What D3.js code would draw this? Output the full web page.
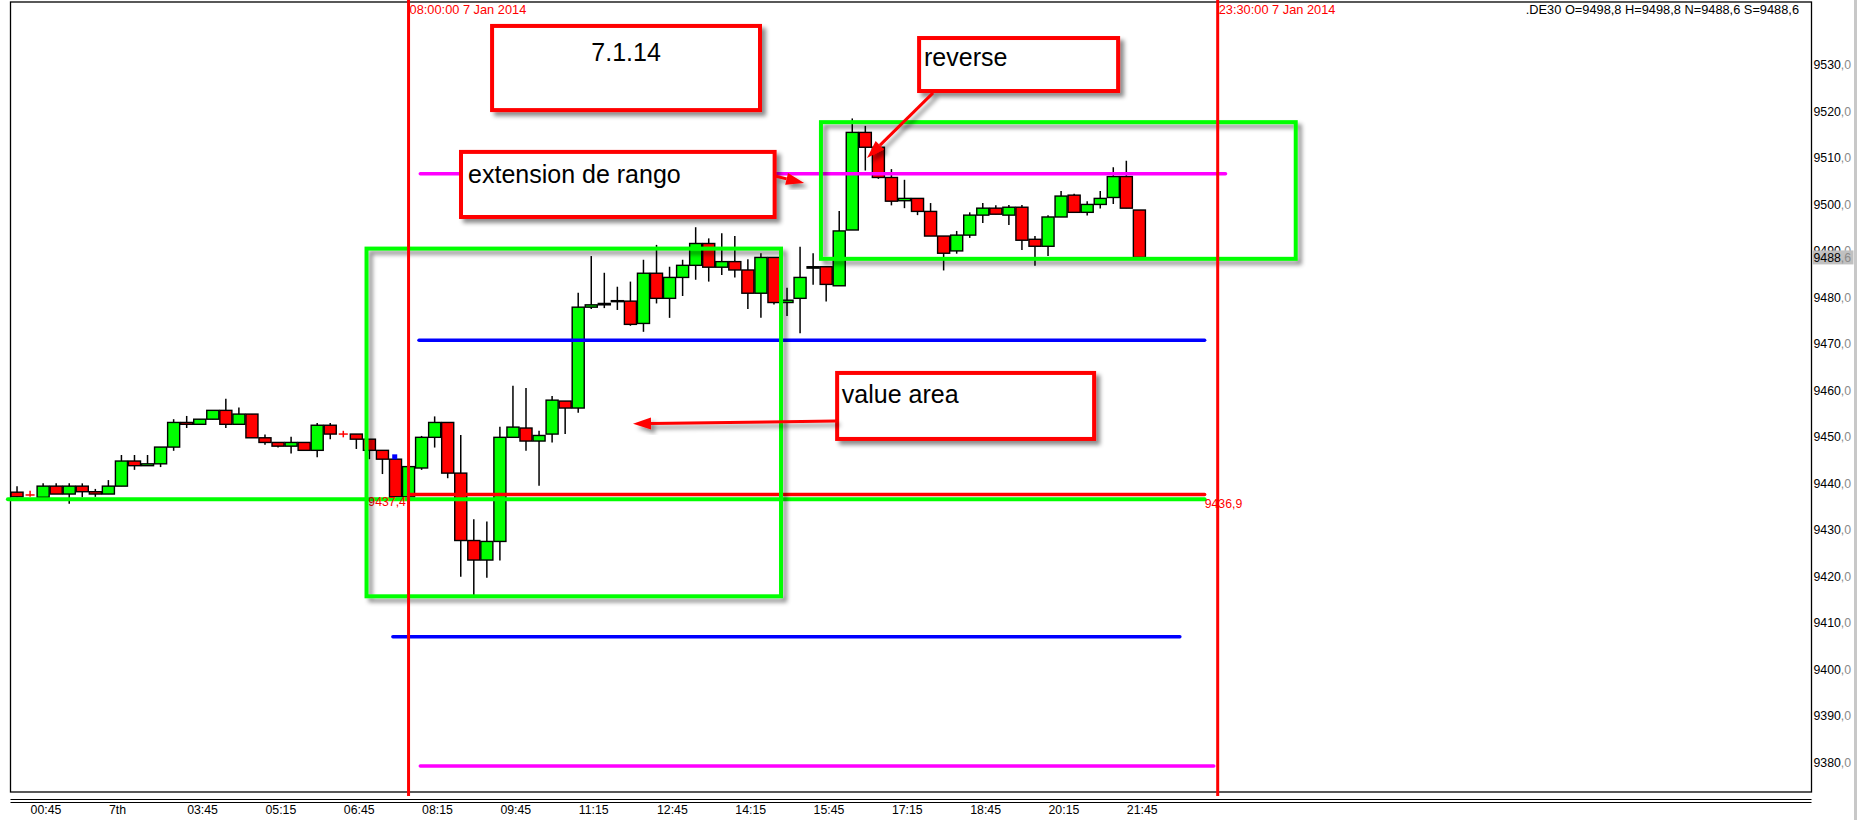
<!DOCTYPE html>
<html><head><meta charset="utf-8">
<script src="https://cdn.jsdelivr.net/npm/d3@7/dist/d3.min.js"></script>
<style>
body{margin:0;background:#fff;overflow:hidden}
svg{display:block}
text{font-family:"Liberation Sans",Arial,sans-serif}
</style>
</head><body>
<svg id="c" width="1857" height="820"></svg>
<script>
// ---- data: 15-minute candles, index 0 = 00:30, 7 Jan 2014 ----
const opens  = [9438.1,9437.5,9437.0,9439.4,9437.7,9439.4,9438.2,9437.7,9439.4,9444.8,9443.8,9444.2,9447.8,9453.1,9452.7,9453.8,9455.7,9452.7,9454.9,9449.8,9448.8,9448.0,9448.8,9447.1,9452.5,9450.6,9450.6,9449.5,9447.1,9445.2,9437.1,9443.3,9449.9,9453.1,9442.2,9427.7,9423.5,9427.5,9449.9,9451.9,9449.1,9450.6,9457.7,9456.2,9477.9,9478.4,9479.3,9479.2,9474.4,9485.2,9479.8,9484.3,9486.9,9491.6,9486.5,9487.7,9485.9,9480.9,9488.6,9478.9,9479.8,9486.3,9486.6,9482.5,9494.5,9515.5,9512.3,9505.8,9500.8,9501.3,9498.5,9493.2,9490.0,9493.4,9497.7,9499.2,9497.7,9499.4,9492.5,9491.0,9497.3,9502.0,9498.3,9500.0,9501.5,9506.0,9498.8];
const highs  = [9439.4,9438.4,9440.0,9440.0,9440.0,9440.0,9438.8,9440.7,9446.1,9446.1,9446.1,9447.8,9453.8,9454.5,9453.8,9455.7,9458.2,9456.3,9454.9,9450.5,9448.8,9450.0,9448.8,9453.0,9453.0,9451.3,9450.6,9449.5,9447.1,9445.2,9443.6,9450.2,9454.4,9453.1,9450.4,9432.3,9431.8,9452.2,9461.0,9460.5,9451.3,9458.8,9457.7,9481.0,9488.9,9485.3,9482.3,9483.4,9488.1,9491.3,9486.6,9488.1,9495.1,9492.7,9493.8,9493.2,9488.2,9489.5,9488.6,9482.1,9490.9,9489.5,9486.6,9498.6,9518.5,9516.9,9512.3,9507.6,9505.3,9501.3,9500.3,9493.2,9494.3,9498.3,9500.3,9499.8,9499.9,9499.9,9493.2,9497.7,9502.9,9502.3,9500.7,9502.9,9508.0,9509.4,9498.8];
const lows   = [9437.0,9437.1,9437.0,9437.7,9435.6,9437.0,9437.1,9437.7,9439.4,9442.9,9443.8,9443.5,9447.0,9451.9,9452.7,9453.8,9451.9,9452.7,9449.8,9448.3,9447.7,9446.4,9447.1,9445.6,9449.5,9449.9,9447.4,9445.2,9442.0,9437.1,9437.1,9442.9,9447.7,9441.1,9419.9,9416.0,9419.7,9423.4,9449.9,9447.0,9439.5,9448.8,9450.6,9455.2,9477.5,9477.7,9477.3,9473.9,9472.6,9478.7,9475.6,9480.3,9483.8,9483.4,9484.8,9484.3,9477.5,9475.6,9478.5,9476.0,9472.3,9482.7,9479.1,9482.5,9494.5,9507.3,9505.5,9499.8,9499.2,9497.7,9493.2,9485.8,9489.4,9492.8,9496.0,9497.9,9495.6,9490.2,9486.8,9488.9,9497.3,9498.3,9497.6,9499.1,9500.1,9499.2,9488.6];
const closes = [9437.1,9437.5,9439.4,9437.7,9439.4,9438.2,9437.7,9439.4,9444.8,9443.8,9444.2,9447.8,9453.1,9452.7,9453.8,9455.7,9452.7,9454.9,9449.8,9448.8,9448.0,9448.8,9447.1,9452.5,9450.6,9450.6,9449.5,9447.1,9445.2,9437.1,9443.6,9449.9,9453.1,9442.2,9427.7,9423.5,9427.5,9449.9,9452.1,9449.1,9450.3,9457.9,9456.2,9477.9,9478.4,9478.7,9479.1,9474.2,9485.2,9479.8,9484.3,9486.9,9491.6,9486.5,9487.7,9485.9,9480.9,9488.6,9478.9,9479.4,9484.3,9486.6,9482.8,9494.3,9515.5,9512.3,9505.8,9500.7,9501.3,9498.5,9493.2,9489.5,9493.4,9497.7,9499.2,9497.9,9499.4,9492.3,9491.0,9497.3,9501.8,9498.3,9500.0,9501.3,9506.0,9499.2,9488.6];

const xTickIndex  = [1,7,13,19,25,31,37,43,49,55,61,67,73,79,85];
const xTickLabels = ["00:45","7th","03:45","05:15","06:45","08:15","09:45","11:15","12:45","14:15","15:45","17:15","18:45","20:15","21:45"];
const yTicks = [9380,9390,9400,9410,9420,9430,9440,9450,9460,9470,9480,9490,9500,9510,9520,9530];

// horizontal levels: value, from index, to index
const levelNames  = ["magentaHi","blueHi","red","green","blueLo","magentaLo"];
const levelValues = [9506.6, 9470.8, 9437.6, 9436.6, 9407.0, 9379.2];
const levelFrom   = [30.9, 30.8, 30.0, -0.7, 28.8, 30.9];
const levelTo     = [92.6, 91.0, 91.0, 91.0, 89.1, 91.7];

// vertical session lines (candle index) and their labels
const vlineIndex  = [30, 92];
const vlineLabels = ["08:00:00 7 Jan 2014", "23:30:00 7 Jan 2014"];

const lastQuote = {o:9498.8, h:9498.8, l:9488.6, c:9488.6};

// ---- geometry ----
const W = 1857, H = 820;
const plot = {l:10.5, r:1811.5, t:2, b:792};
const x = d3.scaleLinear().domain([-0.5, 137.5]).range([plot.l, plot.r]);
const y = d3.scaleLinear().domain([9373.6, 9543.55]).range([plot.b, plot.t]);
const bw = x(1) - x(0);

const svg = d3.select("#c");
const defs = svg.append("defs");
const f = defs.append("filter").attr("id","sh").attr("x","-20%").attr("y","-20%").attr("width","150%").attr("height","160%");
f.append("feDropShadow").attr("dx",4).attr("dy",4).attr("stdDeviation",2.2).attr("flood-color","#000").attr("flood-opacity",0.45);

svg.append("rect").attr("width",W).attr("height",H).attr("fill","#fff");
// right scrollbar strip
svg.append("rect").attr("x",1854).attr("y",0).attr("width",3).attr("height",H).attr("fill","#c8c8c8");

// frame
svg.append("rect").attr("x",plot.l).attr("y",plot.t).attr("width",plot.r-plot.l).attr("height",plot.b-plot.t)
  .attr("fill","none").attr("stroke","#000").attr("stroke-width",1.3);
svg.append("line").attr("x1",plot.l).attr("x2",plot.r).attr("y1",799.5).attr("y2",799.5).attr("stroke","#000").attr("stroke-width",1.2);
svg.append("line").attr("x1",plot.l).attr("x2",plot.r).attr("y1",802.5).attr("y2",802.5).attr("stroke","#000").attr("stroke-width",1.2);

// x axis labels (left-aligned at candle)
const xAxis = d3.axisBottom(x).tickValues(xTickIndex).tickFormat((d,i)=>xTickLabels[i]).tickSize(0).tickPadding(0);
const gx = svg.append("g").attr("transform","translate(0,805)").call(xAxis);
gx.select(".domain").remove();
gx.selectAll("text").attr("text-anchor","start").attr("dy","0.71em").attr("font-size",12.3).attr("fill","#000")
  .attr("font-family","Liberation Sans, Arial, sans-serif");

// y axis labels
const gy = svg.append("g");
yTicks.forEach(v=>{
  const t = gy.append("text").attr("x",plot.r+2).attr("y",y(v)).attr("dy","0.35em").attr("font-size",12.3);
  t.append("tspan").attr("fill","#000").text(String(v));
  t.append("tspan").attr("fill","#8a8a8a").text(",0");
});
// current price tag
gy.append("rect").attr("x",plot.r+1).attr("y",y(lastQuote.c)-7).attr("width",41).attr("height",14).attr("fill","#c0c0c0");
{
  const t = gy.append("text").attr("x",plot.r+2).attr("y",y(lastQuote.c)).attr("dy","0.35em").attr("font-size",12.3);
  const s = lastQuote.c.toFixed(1).split(".");
  t.append("tspan").attr("fill","#000").text(s[0]);
  t.append("tspan").attr("fill","#8a8a8a").text(","+s[1]);
}

// header info
const fmt = v=>v.toFixed(1).replace(".",",");
svg.append("text").attr("x",1799).attr("y",10).attr("dy","0.35em").attr("text-anchor","end").attr("font-size",12.8).attr("fill","#000")
  .text(`.DE30 O=${fmt(lastQuote.o)} H=${fmt(lastQuote.h)} N=${fmt(lastQuote.l)} S=${fmt(lastQuote.c)}`);

// ---- annotations: green boxes ----
const greenBoxes = [
  {i0:26.78, i1:58.54, p0:9490.5, p1:9415.7},
  {i0:61.6,  i1:97.98, p0:9517.7, p1:9488.3}
];

// ---- candles ----
const candles = opens.map((o,i)=>({i,o,h:highs[i],l:lows[i],c:closes[i]}));
const gc = svg.append("g");
gc.selectAll("line.w").data(candles).join("line").attr("class","w")
  .attr("x1",d=>x(d.i)).attr("x2",d=>x(d.i))
  .attr("y1",d=>y(d.h)).attr("y2",d=>y(d.l))
  .attr("stroke",d=>d.o===d.c?"#ff0000":"#000").attr("stroke-width",1.5);
gc.selectAll("rect.b").data(candles.filter(d=>d.o!==d.c)).join("rect").attr("class","b")
  .attr("x",d=>x(d.i)-bw/2+0.5).attr("width",bw-1)
  .attr("y",d=>y(Math.max(d.o,d.c))).attr("height",d=>Math.max(1,Math.abs(y(d.o)-y(d.c))))
  .attr("fill",d=>d.c>d.o?"#00ff00":"#ff0000").attr("stroke","#000").attr("stroke-width",1.4);
gc.selectAll("line.dj").data(candles.filter(d=>d.o===d.c)).join("line").attr("class","dj")
  .attr("x1",d=>x(d.i)-bw/2+2).attr("x2",d=>x(d.i)+bw/2-2)
  .attr("y1",d=>y(d.o)).attr("y2",d=>y(d.o)).attr("stroke","#ff0000").attr("stroke-width",1.5);
// marker dot
svg.append("rect").attr("x",x(28.94)-2.5).attr("y",y(9445.7)-2.5).attr("width",5).attr("height",5).attr("fill","#0000ff");

// ---- horizontal levels ----
const levelColors = {magentaHi:"#ff00ff",blueHi:"#0000ff",red:"#ff0000",green:"#00ff00",blueLo:"#0000ff",magentaLo:"#ff00ff"};
const levelWidth  = {magentaHi:3.5,blueHi:3.5,red:3.5,green:4,blueLo:3.5,magentaLo:3.5};
levelNames.forEach((n,k)=>{
  svg.append("line").attr("x1",x(levelFrom[k])).attr("x2",x(levelTo[k]))
    .attr("y1",y(levelValues[k])).attr("y2",y(levelValues[k]))
    .attr("stroke",levelColors[n]).attr("stroke-width",levelWidth[n]).attr("stroke-linecap","round");
});
svg.append("text").attr("x",x(29.8)).attr("y",y(9436.0)).attr("dy","0.35em").attr("text-anchor","end")
  .attr("font-size",12.3).attr("fill","#ff0000").text("9437,4");
svg.append("text").attr("x",x(91.0)).attr("y",y(9435.6)).attr("dy","0.35em").attr("text-anchor","start")
  .attr("font-size",12.3).attr("fill","#ff0000").text("9436,9");

// green boxes
greenBoxes.forEach(b=>{
  svg.append("rect").attr("x",x(b.i0)).attr("y",y(b.p0)).attr("width",x(b.i1)-x(b.i0)).attr("height",y(b.p1)-y(b.p0))
    .attr("fill","none").attr("stroke","#00ff00").attr("stroke-width",4).attr("filter","url(#sh)");
});

// vertical red lines
vlineIndex.forEach((vi,k)=>{
  svg.append("line").attr("x1",x(vi)).attr("x2",x(vi)).attr("y1",0).attr("y2",796)
    .attr("stroke","#ff0000").attr("stroke-width",3);
  svg.append("text").attr("x",x(vi)+1).attr("y",10).attr("dy","0.35em").attr("font-size",12.8).attr("fill","#ff0000").text(vlineLabels[k]);
});

// text boxes
const boxes = [
  {i0:36.4, i1:56.93, p0:9538.4, p1:9520.3, text:"7.1.14", ti:46.67, tp:9532.8, anchor:"middle"},
  {i0:69.12,i1:84.37, p0:9535.8, p1:9524.4, text:"reverse", ti:69.5, tp:9531.7, anchor:"start"},
  {i0:34.02,i1:58.05, p0:9511.3, p1:9497.3, text:"extension de rango", ti:34.56, tp:9506.5, anchor:"start"},
  {i0:62.84,i1:82.53, p0:9463.75,p1:9449.55,text:"value area", ti:63.2, tp:9459.2, anchor:"start"}
];
boxes.forEach(b=>{
  svg.append("rect").attr("x",x(b.i0)).attr("y",y(b.p0)).attr("width",x(b.i1)-x(b.i0)).attr("height",y(b.p1)-y(b.p0))
    .attr("fill","#fff").attr("stroke","#ff0000").attr("stroke-width",4).attr("filter","url(#sh)");
  svg.append("text").attr("x",x(b.ti)).attr("y",y(b.tp)).attr("dy","0.35em").attr("text-anchor",b.anchor)
    .attr("font-size",25).attr("fill","#000").text(b.text);
});

// arrows
const arrows = [
  {i0:70.19,p0:9524.0,i1:65.13,p1:9510.0},
  {i0:58.08,p0:9506.1,i1:60.31,p1:9504.6},
  {i0:62.76,p0:9453.4,i1:47.2, p1:9452.8}
];
arrows.forEach(a=>{
  const x0=x(a.i0),y0=y(a.p0),x1=x(a.i1),y1=y(a.p1);
  const ang=Math.atan2(y1-y0,x1-x0), L=18, Wd=6;
  const bx=x1-L*Math.cos(ang), by=y1-L*Math.sin(ang);
  const g=svg.append("g").attr("filter","url(#sh)");
  g.append("line").attr("x1",x0).attr("y1",y0).attr("x2",bx).attr("y2",by).attr("stroke","#ff0000").attr("stroke-width",3);
  g.append("path").attr("d",`M${x1},${y1}L${bx-Wd*Math.sin(ang)},${by+Wd*Math.cos(ang)}L${bx+Wd*Math.sin(ang)},${by-Wd*Math.cos(ang)}Z`).attr("fill","#ff0000");
});
</script>
</body></html>
